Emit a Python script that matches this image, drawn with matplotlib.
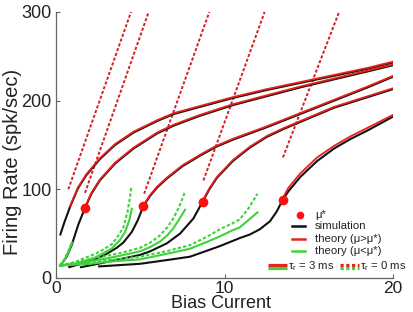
import matplotlib
matplotlib.use('Agg')
import matplotlib.pyplot as plt

plt.rcParams['font.family'] = ['Liberation Sans', 'DejaVu Sans']
plt.rcParams['mathtext.fontset'] = 'custom'
plt.rcParams['mathtext.rm'] = 'Liberation Sans'
plt.rcParams['mathtext.it'] = 'Liberation Sans'

# ---------------- data ----------------
# simulation (black)
sim1_x = [0.24, 0.5, 0.83, 1.3, 1.8, 2.6, 3.5, 4.6, 6.0, 7.0, 8.55, 10.5, 12.5, 14.5, 16.5, 18.5, 20]
sim1_y = [48, 63, 80, 101, 116, 134, 150, 164, 177, 185, 193, 203, 212, 220, 228, 236, 243]
sim2_x = [0.24, 0.34, 0.63, 0.93, 1.32, 1.72, 2.1, 2.6, 3.5, 4.6, 6.0, 7.0, 8.55, 10.5, 12.5, 14.5, 16.5, 18.5, 20]
sim2_y = [15, 16, 24, 37, 60, 79, 95, 110, 129, 146, 163, 172, 183, 195, 205, 215, 224, 233, 240]
sim3_x = [0.73, 1.5, 2.3, 2.9, 3.6, 4.0, 4.5, 4.85, 5.18, 5.6, 6.0, 6.57, 7.5, 8.55, 9.5, 10.5, 12.5, 14.5, 16.5, 18.5, 20]
sim3_y = [12, 16, 21, 26, 34, 40, 52, 65, 81, 93, 102, 112, 126, 138, 148, 156, 170, 185, 200, 215, 227]
sim4_x = [1.42, 2.5, 3.5, 4.98, 5.58, 6.57, 7.36, 8.15, 8.7, 9.1, 9.55, 10.5, 11.5, 12.5, 13.5, 14.5, 15.5, 16.5, 18.5, 20]
sim4_y = [12, 16, 20, 26, 30, 39, 50, 67, 86, 100, 113, 132, 147, 159, 168, 176, 184, 192, 204, 213]
sim5_x = [2.5, 4.98, 6.5, 7.95, 9.14, 9.73, 10.9, 11.5, 12.1, 12.7, 13.1, 13.45, 13.8, 14.5, 15.5, 16.5, 17.5, 18.45, 20]
sim5_y = [13, 16, 20, 24, 32, 36, 45, 49, 55, 64, 75, 88, 98, 114, 132, 146, 157, 166, 182]

# theory above mu* (red solid, tau_r = 3 ms)
hi1_x = [0.83, 1.3, 1.8, 2.6, 3.5, 4.6, 6.0, 7.0, 8.55, 10.5, 12.5, 14.5, 16.5, 18.5, 20]
hi1_y = [81, 102, 117, 135, 151, 165, 178, 186, 194, 204, 213, 221, 229, 237, 244]
hi2_x = [1.72, 2.1, 2.6, 3.5, 4.6, 6.0, 7.0, 8.55, 10.5, 12.5, 14.5, 16.5, 18.5, 20]
hi2_y = [80, 96, 111, 130, 147, 164, 173, 184, 196, 206, 216, 225, 234, 241]
hi3_x = [5.18, 5.6, 6.0, 6.57, 7.5, 8.55, 9.5, 10.5, 12.5, 14.5, 16.5, 18.5, 20]
hi3_y = [82, 94, 103, 113, 127, 139, 149, 157, 171, 186, 201, 216, 228]
hi4_x = [8.7, 9.1, 9.55, 10.5, 11.5, 12.5, 13.5, 14.5, 15.5, 16.5, 18.5, 20]
hi4_y = [87, 101, 114, 133, 148, 160, 169, 177, 185, 193, 205, 214]
hi5_x = [13.45, 13.8, 14.5, 15.5, 16.5, 17.5, 18.45, 20]
hi5_y = [90, 102, 118, 136, 149, 160, 169, 184]

# theory above mu* (red dotted, tau_r = 0 ms)
hd1_x = [0.73, 4.45]
hd1_y = [100, 300]
hd2_x = [1.72, 5.5]
hd2_y = [96, 300]
hd3_x = [5.23, 9.1]
hd3_y = [95, 300]
hd4_x = [8.75, 12.38]
hd4_y = [110, 300]
hd5_x = [13.47, 16.8]
hd5_y = [136, 300]

# theory below mu* (green solid, tau_r = 3 ms)
lo2_x = [0.24, 0.5, 0.75, 0.95]
lo2_y = [14, 20, 30, 40]
lo3_x = [0.24, 1.13, 1.62, 2.31, 2.8, 3.3, 3.8, 4.1, 4.35, 4.5]
lo3_y = [14, 16, 19, 23, 28, 33, 43, 52, 65, 78]
lo4_x = [0.24, 1.5, 3.0, 4.0, 4.98, 5.6, 6.17, 6.6, 6.96, 7.3, 7.66]
lo4_y = [14, 17, 22, 26, 30, 35, 41, 48, 56, 66, 77]
lo5_x = [0.24, 2.0, 3.5, 4.98, 6.5, 7.95, 9.0, 9.73, 10.5, 10.9, 11.4, 11.96]
lo5_y = [14, 16, 19, 21, 27, 33, 41, 47, 54, 57, 65, 74]

# theory below mu* (green dotted, tau_r = 0 ms)
ld2_x = [0.24, 0.5, 0.75, 0.95]
ld2_y = [14, 21, 31, 41]
ld3_x = [0.24, 1.13, 1.62, 2.31, 2.8, 3.3, 3.6, 4.0, 4.25, 4.4, 4.48]
ld3_y = [14, 18, 22, 27, 32, 38, 45, 57, 75, 92, 104]
ld4_x = [0.24, 1.5, 3.0, 4.0, 4.98, 5.6, 6.17, 6.6, 6.96, 7.3, 7.56, 7.65]
ld4_y = [14, 19, 25, 29, 34, 40, 48, 57, 67, 80, 92, 98]
ld5_x = [0.24, 2.0, 3.5, 4.98, 6.5, 7.95, 9.0, 9.73, 10.5, 10.9, 11.4, 11.8, 11.95]
ld5_y = [14, 18, 21, 24, 30, 37, 47, 55, 62, 66, 78, 90, 95]

# mu* points
mu_x = [1.72, 5.18, 8.7, 13.45]
mu_y = [79, 81, 86, 88]

x_ticks = [0, 10, 20]
y_ticks = [0, 100, 200, 300]

# ---------------- styling ----------------
RED = '#e8201c'
DRED = '#d42020'
GREEN = '#3fd23a'
BLACK = '#111111'
DOT = (0, (1.6, 1.0))

fig = plt.figure(figsize=(4.13, 3.12), dpi=100)
ax = fig.add_axes([56 / 413, 34 / 312, 337 / 413, 266 / 312])

sims = [(sim1_x, sim1_y), (sim2_x, sim2_y), (sim3_x, sim3_y), (sim4_x, sim4_y), (sim5_x, sim5_y)]
his = [(hi1_x, hi1_y), (hi2_x, hi2_y), (hi3_x, hi3_y), (hi4_x, hi4_y), (hi5_x, hi5_y)]
hds = [(hd1_x, hd1_y), (hd2_x, hd2_y), (hd3_x, hd3_y), (hd4_x, hd4_y), (hd5_x, hd5_y)]
los = [(lo2_x, lo2_y), (lo3_x, lo3_y), (lo4_x, lo4_y), (lo5_x, lo5_y)]
lds = [(ld2_x, ld2_y), (ld3_x, ld3_y), (ld4_x, ld4_y), (ld5_x, ld5_y)]

for x, y in hds:
    ax.plot(x, y, color=DRED, lw=1.4, ls=DOT, clip_on=False, zorder=2)
for x, y in sims:
    ax.plot(x, y, color=BLACK, lw=1.5, zorder=3, solid_capstyle='butt')
for x, y in lds:
    ax.plot(x, y, color=GREEN, lw=1.5, ls=DOT, zorder=4)
for x, y in los:
    ax.plot(x, y, color=GREEN, lw=1.5, zorder=4)
for x, y in his:
    ax.plot(x, y, color=RED, lw=1.3, zorder=5)
ax.plot(mu_x, mu_y, 'o', color='#ff1010', ms=7, mec='none', zorder=6)

ax.set_xlim(0, 20)
ax.set_ylim(0, 300)
ax.set_xticks(x_ticks)
ax.set_yticks(y_ticks)
for s in ['top', 'right']:
    ax.spines[s].set_visible(False)
for s in ['left', 'bottom']:
    ax.spines[s].set_color('#666666')
    ax.spines[s].set_linewidth(0.9)
ax.tick_params(direction='in', length=3, width=0.8, color='#666666',
               labelsize=13, labelcolor='#222222', pad=3)
ax.tick_params(axis='x', labelsize=12.5, pad=2)
ax.set_xlabel('Bias Current', fontsize=13, color='#222222', va='bottom')
ax.set_ylabel('Firing Rate (spk/sec)', fontsize=14.5, color='#222222')
ax.xaxis.set_label_coords(0.49, -34 / 266 + 0.5 / 266)
ax.yaxis.set_label_coords(-0.101, 0.436)

# ---------------- legend ----------------
T = ax.transAxes
LFS = 8.2
rows = [0.236, 0.195, 0.147, 0.102]
ax.plot([0.724], [rows[0]], 'o', color='#ff1010', ms=5.5, mec='none', transform=T, clip_on=False)
ax.plot([0.699, 0.739], [rows[1]] * 2, color=BLACK, lw=1.8, transform=T, clip_on=False)
ax.plot([0.699, 0.739], [rows[2]] * 2, color=RED, lw=1.8, transform=T, clip_on=False)
ax.plot([0.699, 0.739], [rows[3]] * 2, color=GREEN, lw=1.8, transform=T, clip_on=False)
labels = ['μ*', 'simulation', 'theory (μ>μ*)', 'theory (μ<μ*)']
for yy, lab in zip(rows, labels):
    ax.text(0.768, yy, lab, transform=T, fontsize=LFS, va='center', ha='left', color='#222222')

ax.plot([0.629, 0.684], [0.049] * 2, color=RED, lw=2.3, transform=T, clip_on=False, solid_capstyle='butt')
ax.plot([0.629, 0.684], [0.037] * 2, color=GREEN, lw=2.3, transform=T, clip_on=False, solid_capstyle='butt')
ax.text(0.687, 0.043, 'τ$_\\mathrm{r}$ = 3 ms', transform=T, fontsize=LFS, va='center', ha='left', color='#222222')
ax.plot([0.843, 0.898], [0.049] * 2, color=RED, lw=2.3, ls=(0, (1.0, 0.8)), transform=T, clip_on=False)
ax.plot([0.843, 0.898], [0.037] * 2, color=GREEN, lw=2.3, ls=(0, (1.0, 0.8)), transform=T, clip_on=False)
ax.text(0.902, 0.043, 'τ$_\\mathrm{r}$ = 0 ms', transform=T, fontsize=LFS, va='center', ha='left', color='#222222')

fig.savefig('out.png', dpi=100)
